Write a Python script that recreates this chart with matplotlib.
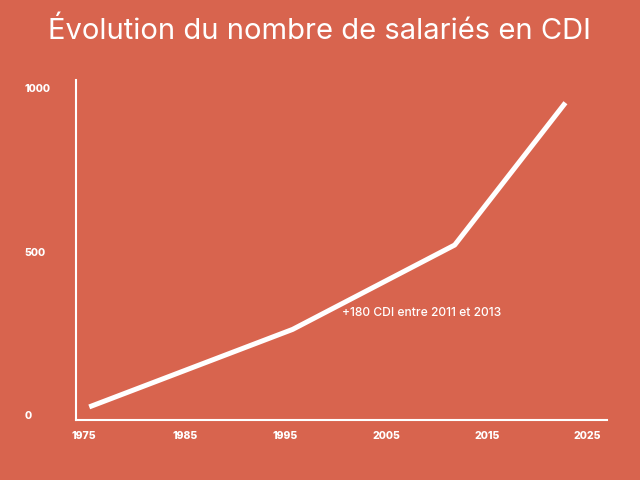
import matplotlib.pyplot as plt

# data
years = [1975.5, 1995.7, 2011.8, 2022.8]
salaries = [25, 262, 520, 955]
x_ticks = [1975, 1985, 1995, 2005, 2015, 2025]
y_ticks = [0, 500, 1000]
title = "Évolution du nombre de salariés en CDI"
note = "+180 CDI entre 2011 et 2013"

bg = "#D8644E"
plt.rcParams['font.family'] = ['Inter', 'DejaVu Sans']

fig = plt.figure(figsize=(6.4, 4.8), dpi=100, facecolor=bg)
ax = fig.add_axes([0.119, 0.125, 0.829, 0.708])
ax.set_facecolor(bg)

ax.plot(years, salaries, color="white", lw=3.6, solid_capstyle="butt")

ax.set_xlim(1974.2, 2026.9)
ax.set_ylim(-15, 1024)
ax.set_xticks(x_ticks)
ax.set_yticks(y_ticks)
ax.set_xticklabels([str(v) for v in x_ticks], fontsize=7.5, fontweight="heavy", color="white")
ax.set_yticklabels([str(v) for v in y_ticks], fontsize=7.5, fontweight="heavy", color="white")
for lab in ax.get_yticklabels():
    lab.set_horizontalalignment("left")
ax.tick_params(axis="both", length=0)
ax.tick_params(axis="y", pad=37)
ax.tick_params(axis="x", pad=8)

for s in ["top", "right"]:
    ax.spines[s].set_visible(False)
for s in ["left", "bottom"]:
    ax.spines[s].set_color("white")
    ax.spines[s].set_linewidth(1.5)

ax.text(2000.6, 312, note, color="white", fontsize=8.7, fontweight="medium", va="center")
fig.text(0.5, 0.935, title, color="white", fontsize=21, ha="center", va="center")

fig.savefig("out.png", dpi=100, facecolor=bg)
